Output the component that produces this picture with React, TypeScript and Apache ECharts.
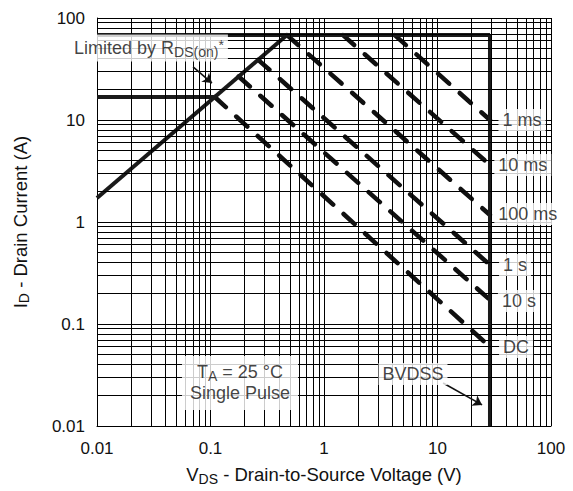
import React, { useEffect, useRef } from 'react';
import * as echarts from 'echarts';

// Axis tick labels (log decades)
const xTickLabels = ['0.01', '0.1', '1', '10', '100'];
const yTickLabels = ['0.01', '0.1', '1', '10', '100'];
const decades = [0.01, 0.1, 1, 10];
const minorMultipliers = [2, 3, 4, 5, 6, 7, 8, 9];

// Safe operating area boundaries [V, A]
const currentLimit = [[0.01, 68], [29, 68]];
const lowCurrentLimit = [[0.01, 16.8], [0.109, 16.8]];
const rdsOnLimit = [[0.01, 1.72], [0.472, 68]];
const bvdssLimit = [[29, 68], [29, 0.01]];

// Pulse-width lines [V, A]
const pulseNames = ['1 ms', '10 ms', '100 ms', '1 s', '10 s', 'DC'];
const pulseStart = [[4.2, 68], [1.47, 68], [0.472, 68], [0.263, 38.9], [0.177, 26.7], [0.109, 16.8]];
const pulseEnd = [[29, 10.0], [29, 3.62], [29, 1.17], [29, 0.379], [29, 0.172], [29, 0.0596]];
const pulseLabelAt = [[55.5, 10.0], [56.5, 3.62], [62.5, 1.2], [48.2, 0.379], [52.2, 0.168], [49.2, 0.0595]];

// Annotations
const rdsLabelAt = [0.0293, 50.8];
const rdsArrow = [[0.0702, 33.1], [0.103, 23.0]];
const bvdssLabelAt = [6.08, 0.0324];
const bvdssArrow = [[11.2, 0.0264], [24.7, 0.0161]];
const conditionLabelAt = [0.182, 0.0264];

const FONT = '"Liberation Sans", Arial, Helvetica, sans-serif';
const TXT = '#111';

const minorValues: number[] = [];
decades.forEach((d) => minorMultipliers.forEach((k) => minorValues.push(Number((k * d).toPrecision(6)))));

const labelFor = (labels: string[]) => (v: number) => {
  const i = Math.round(Math.log10(v)) + 2;
  return labels[i] ?? '';
};

const makeRich = (size: number, sub: number) => ({
  n: { fontSize: size, fontFamily: FONT, color: TXT, lineHeight: size + 3 },
  s: { fontSize: sub, fontFamily: FONT, color: TXT, verticalAlign: 'bottom', lineHeight: 8 },
  p: { fontSize: sub, fontFamily: FONT, color: TXT, verticalAlign: 'top', lineHeight: 6 },
});

const titleRich = makeRich(18.5, 14);
const noteRich = makeRich(18, 14);

export default function App() {
  const ref = useRef<HTMLDivElement>(null);
  useEffect(() => {
    if (!ref.current) return;
    const chart = echarts.init(ref.current, null, { renderer: 'svg' });

    const boxLabel = (pos: number[], text: string, extra: any = {}) => ({
      value: pos,
      label: {
        show: true,
        position: [0, 0],
        align: 'center',
        verticalAlign: 'middle',
        formatter: text,
        backgroundColor: '#fff',
        padding: [2, 4, 2, 4],
        fontSize: 18,
        fontFamily: FONT,
        color: TXT,
        textBorderWidth: 0,
        textBorderColor: 'transparent',
        rich: noteRich,
        ...extra,
      },
    });

    const series: any[] = [
      {
        type: 'line',
        name: 'grid',
        data: [],
        silent: true,
        z: 1,
        markLine: {
          silent: true,
          symbol: ['none', 'none'],
          label: { show: false },
          lineStyle: { color: '#000', width: 1, type: 'solid' },
          data: [
            ...minorValues.map((v) => ({ xAxis: v })),
            ...minorValues.map((v) => ({ yAxis: v })),
          ],
        },
      },
      ...[currentLimit, lowCurrentLimit, rdsOnLimit, bvdssLimit].map((d) => ({
        type: 'line',
        data: d,
        symbol: 'none',
        silent: true,
        z: 4,
        lineStyle: { color: '#1a1a1a', width: 4, cap: 'butt' },
      })),
      ...pulseNames.map((n, i) => ({
        type: 'line',
        name: n,
        data: [pulseStart[i], pulseEnd[i]],
        symbol: 'none',
        silent: true,
        z: 3,
        lineStyle: { color: '#111', width: 4.5, type: [15, 14], cap: 'round' },
      })),
      {
        type: 'line',
        name: 'arrows',
        data: [],
        silent: true,
        z: 6,
        markLine: {
          silent: true,
          symbol: ['none', 'arrow'],
          symbolSize: 9,
          label: { show: false },
          lineStyle: { color: '#111', width: 1.6, type: 'solid' },
          data: [
            [{ coord: rdsArrow[0] }, { coord: rdsArrow[1] }],
            [{ coord: bvdssArrow[0] }, { coord: bvdssArrow[1] }],
          ],
        },
      },
      {
        type: 'scatter',
        name: 'labels',
        symbolSize: 0,
        silent: true,
        z: 8,
        data: [
          ...pulseNames.map((n, i) => boxLabel(pulseLabelAt[i], n)),
          boxLabel(rdsLabelAt, '{n|Limited by R}{s|DS(on)}{p|*}', { padding: [3, 4, 3, 2] }),
          boxLabel(bvdssLabelAt, 'BVDSS'),
          boxLabel(conditionLabelAt, '{n|T}{s|A}{n| = 25 °C}\n{n|Single Pulse}', { padding: [6, 8, 6, 8] }),
        ],
      },
    ];

    chart.setOption({
      animation: false,
      backgroundColor: '#fff',
      grid: { left: 97, right: 22, top: 18, bottom: 65, containLabel: false },
      xAxis: {
        type: 'log',
        logBase: 10,
        min: 0.01,
        max: 100,
        name: '{n|V}{s|DS}{n| - Drain-to-Source Voltage (V)}',
        nameLocation: 'middle',
        nameGap: 38,
        nameTextStyle: { rich: titleRich },
        axisLine: { show: true, lineStyle: { color: '#000', width: 1 } },
        axisTick: { show: false },
        axisLabel: { formatter: labelFor(xTickLabels), fontSize: 17, fontFamily: FONT, color: TXT, margin: 14 },
        splitLine: { show: true, lineStyle: { color: '#000', width: 1 } },
        minorSplitLine: { show: false },
      },
      yAxis: {
        type: 'log',
        logBase: 10,
        min: 0.01,
        max: 100,
        name: '{n|I}{s|D}{n| - Drain Current (A)}',
        nameLocation: 'middle',
        nameGap: 66,
        nameRotate: 90,
        nameTextStyle: { rich: titleRich },
        axisLine: { show: true, lineStyle: { color: '#000', width: 1 } },
        axisTick: { show: false },
        axisLabel: { formatter: labelFor(yTickLabels), fontSize: 17, fontFamily: FONT, color: TXT, margin: 12 },
        splitLine: { show: true, lineStyle: { color: '#000', width: 1 } },
      },
      series,
    });
    return () => chart.dispose();
  }, []);
  return <div ref={ref} style={{ position: 'fixed', left: 0, top: 0, width: 573, height: 491 }} />;
}
